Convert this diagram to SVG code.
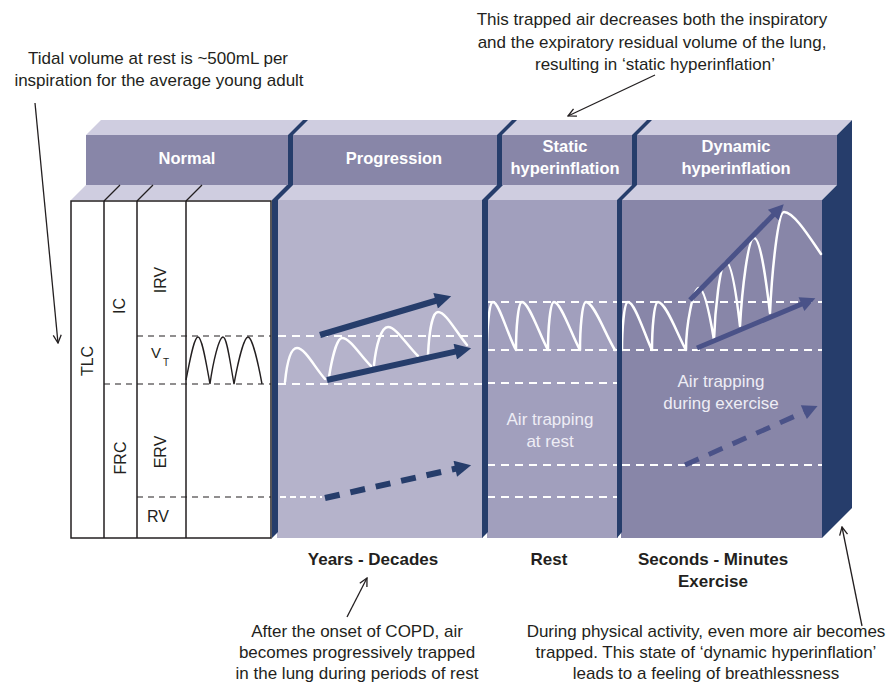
<svg xmlns="http://www.w3.org/2000/svg" width="891" height="686" viewBox="0 0 891 686">
<defs>
<style>
.t{font-family:"Liberation Sans",Arial,sans-serif;font-size:17px;fill:#231f20}
.s{font-size:16px}
.hb{font-family:"Liberation Sans",Arial,sans-serif;font-weight:bold;font-size:16.5px;fill:#ffffff}
.lb{font-family:"Liberation Sans",Arial,sans-serif;font-weight:bold;font-size:17px;fill:#231f20}
.pl{font-family:"Liberation Sans",Arial,sans-serif;font-size:17px;fill:#eeedf5}
.wd{stroke:#ffffff;stroke-width:2;stroke-dasharray:8 6;fill:none}
.bd{stroke:#231f20;stroke-width:1.2;stroke-dasharray:6 5;fill:none}
.wave{fill:none;stroke:#ffffff;stroke-width:2.5;stroke-linejoin:round;stroke-linecap:round}
.navy{fill:#263d6b}
.top{fill:#cfcde0}
.front{fill:#8886a8}
.na{stroke:#263d6b;stroke-width:6;fill:none;marker-end:url(#hn)}
.nb{stroke:#4a5288;stroke-width:5;fill:none;marker-end:url(#hb2)}
.ptr{stroke:#231f20;stroke-width:1.3;fill:none;marker-end:url(#open)}
</style>
<marker id="hn" viewBox="0 0 10 10" refX="5" refY="5" markerWidth="3" markerHeight="2.7" orient="auto" markerUnits="strokeWidth"><path d="M0,0 L10,5 L0,10 z" fill="#263d6b"/></marker>
<marker id="hb2" viewBox="0 0 10 10" refX="5" refY="5" markerWidth="3.4" markerHeight="3" orient="auto" markerUnits="strokeWidth"><path d="M0,0 L10,5 L0,10 z" fill="#4a5288"/></marker>
<marker id="open" viewBox="0 0 10 10" refX="9" refY="5" markerWidth="10" markerHeight="10" orient="auto" markerUnits="userSpaceOnUse"><path d="M1,1 L9,5 L1,9" fill="none" stroke="#231f20" stroke-width="1.3"/></marker>
</defs>

<g id="block">
<polygon class="top" points="86,135 101,120 852,120 837,135"/>
<rect class="front" x="86" y="135" width="751" height="50"/>
<polygon class="top" points="71,200 86,185 837,185 822,200"/>
<rect x="277" y="200" width="206" height="338" fill="#b5b3cb"/>
<rect x="487" y="200" width="131" height="338" fill="#a19fbd"/>
<rect x="621" y="200" width="201" height="338" fill="#8886a8"/>
<polygon class="navy" points="837,135 852,120 852,508 822,538 822,200 837,185"/>
</g>

<g id="header-normal"><text class="hb" x="187" y="164" text-anchor="middle">Normal</text></g>
<g id="header-progression"><text class="hb" x="394" y="164" text-anchor="middle">Progression</text></g>
<g id="header-static"><text class="hb" x="565" y="152" text-anchor="middle">Static</text><text class="hb" x="565" y="174" text-anchor="middle">hyperinflation</text></g>
<g id="header-dynamic"><text class="hb" x="736" y="152" text-anchor="middle">Dynamic</text><text class="hb" x="736" y="174" text-anchor="middle">hyperinflation</text></g>

<g id="normal-panel">
<rect x="71" y="201" width="200" height="337" fill="#ffffff" stroke="#231f20" stroke-width="1.5"/>
<path d="M104,201 V538 M137,201 V538 M186,201 V538" stroke="#231f20" stroke-width="1.5" fill="none"/>
<path d="M104,201 L120,185 M137,201 L153,185 M186,201 L202,185" stroke="#231f20" stroke-width="1.3" fill="none"/>
<path class="bd" d="M137,336 H271 M104,384 H271 M137,497 H271"/>
<path d="M186,380 C190,360 194,337 198,337 C202,337 206,362 210,384 C213,362 219,337 223,337 C227,337 230,362 234,384 C238,362 244,337 248,337 C252,337 258,362 262,384" fill="none" stroke="#231f20" stroke-width="1.4"/>
<text class="t s" transform="translate(93,361) rotate(-90)" text-anchor="middle">TLC</text>
<text class="t s" transform="translate(125,306) rotate(-90)" text-anchor="middle">IC</text>
<text class="t s" transform="translate(166,280) rotate(-90)" text-anchor="middle">IRV</text>
<text class="t s" transform="translate(126,458) rotate(-90)" text-anchor="middle">FRC</text>
<text class="t s" transform="translate(166,452) rotate(-90)" text-anchor="middle">ERV</text>
<text class="t s" x="158" y="522" text-anchor="middle">RV</text>
<text class="t" x="151" y="358" style="font-size:15px">V</text>
<text class="t" x="163" y="366" style="font-size:10px">T</text>
</g>

<g id="progression-panel">
<path class="wd" d="M278,336 H482 M278,384 H482"/>
<path class="wd" d="M280,497 H322" style="stroke-dasharray:6 4"/>
<path class="wave" d="M285,382 C287,362 291,348 297,348 C305,348 315,368 325,379 M329,377 C332,358 337,338 342,338 C350,338 360,355 371,366 M374,365 C376,346 381,327 388,327 C396,327 406,344 418,356 M428,355 C429,334 432,312 438,312 C446,312 456,332 467,345"/>
</g>

<g id="static-panel">
<path class="wd" d="M487,302 H617 M487,350 H617 M487,383 H617 M487,465 H617 M487,497 H617"/>
<path class="wave" d="M487,350 C487,330 489,302 493,302 C499,302 508,336 516,350 C516,330 518,302 522,302 C529,302 540,336 548,350 C548,330 550,302 554,302 C561,302 572,336 580,350 C580,330 582,302 586,302 C594,302 606,336 615,350"/>
<text class="pl" x="550" y="425" text-anchor="middle">Air trapping</text>
<text class="pl" x="550" y="447" text-anchor="middle">at rest</text>
</g>

<g id="dynamic-panel">
<path class="wd" d="M622,302 H822 M622,350 H822 M622,465 H822"/>
<path class="wave" d="M622,350 C622,330 624,302 628,302 C635,302 645,336 652,350 C652,330 654,302 658,302 C666,302 678,336 686,350 C686,325 693,288 699,288 C705,288 711,322 714,340 C715,310 720,262 726,262 C732,262 737,300 740,326 C742,290 748,238 754,238 C761,238 767,288 770,313 C772,270 778,212 784,212 C794,212 810,238 821,254"/>
<text class="pl" x="721" y="387" text-anchor="middle">Air trapping</text>
<text class="pl" x="721" y="409" text-anchor="middle">during exercise</text>
</g>

<g id="dividers">
<polygon class="navy" points="288,185 288,135 303,120 308,120 293,135 293,185"/>
<polygon class="navy" points="497,185 497,135 512,120 517,120 502,135 502,185"/>
<polygon class="navy" points="632,185 632,135 647,120 652,120 637,135 637,185"/>
<polygon class="navy" points="272,538 272,200 287,185 293,185 278,200 278,532"/>
<polygon class="navy" points="482,538 482,200 497,185 503,185 488,200 488,532"/>
<polygon class="navy" points="617,538 617,200 632,185 637,185 622,200 622,532"/>
</g>

<g id="connectors">
<line class="na" x1="320" y1="335" x2="443.4" y2="298.5"/>
<line class="na" x1="327" y1="380" x2="463.2" y2="349.9"/>
<line class="na" x1="325" y1="498" x2="463.2" y2="467" style="stroke-dasharray:15 11"/>
<line class="nb" x1="690" y1="300" x2="778.5" y2="209.6"/>
<line class="nb" x1="697" y1="348" x2="808.4" y2="301.2"/>
<line class="nb" x1="685" y1="465" x2="810.7" y2="409.1" style="stroke-dasharray:15 11"/>
<line class="ptr" x1="35" y1="103" x2="58" y2="343"/>
<line class="ptr" x1="655" y1="75" x2="568" y2="116"/>
<line class="ptr" x1="347" y1="617" x2="367" y2="578"/>
<line class="ptr" x1="862" y1="626" x2="842" y2="527"/>
</g>

<g id="note-tidal">
<text class="t" x="158" y="64" text-anchor="middle">Tidal volume at rest is ~500mL per</text>
<text class="t" x="159" y="86" text-anchor="middle">inspiration for the average young adult</text>
</g>
<g id="note-static">
<text class="t" x="652" y="25" text-anchor="middle">This trapped air decreases both the inspiratory</text>
<text class="t" x="652" y="48" text-anchor="middle">and the expiratory residual volume of the lung,</text>
<text class="t" x="655" y="70" text-anchor="middle">resulting in ‘static hyperinflation’</text>
</g>
<g id="label-years"><text class="lb" x="373" y="565" text-anchor="middle">Years - Decades</text></g>
<g id="label-rest"><text class="lb" x="549" y="565" text-anchor="middle">Rest</text></g>
<g id="label-seconds">
<text class="lb" x="713" y="565" text-anchor="middle">Seconds - Minutes</text>
<text class="lb" x="713" y="587" text-anchor="middle">Exercise</text>
</g>
<g id="note-copd">
<text class="t" x="357" y="637" text-anchor="middle">After the onset of COPD, air</text>
<text class="t" x="357" y="658" text-anchor="middle">becomes progressively trapped</text>
<text class="t" x="357" y="679" text-anchor="middle">in the lung during periods of rest</text>
</g>
<g id="note-dynamic">
<text class="t" x="706" y="637" text-anchor="middle">During physical activity, even more air becomes</text>
<text class="t" x="706" y="658" text-anchor="middle">trapped. This state of ‘dynamic hyperinflation’</text>
<text class="t" x="706" y="679" text-anchor="middle">leads to a feeling of breathlessness</text>
</g>
</svg>
